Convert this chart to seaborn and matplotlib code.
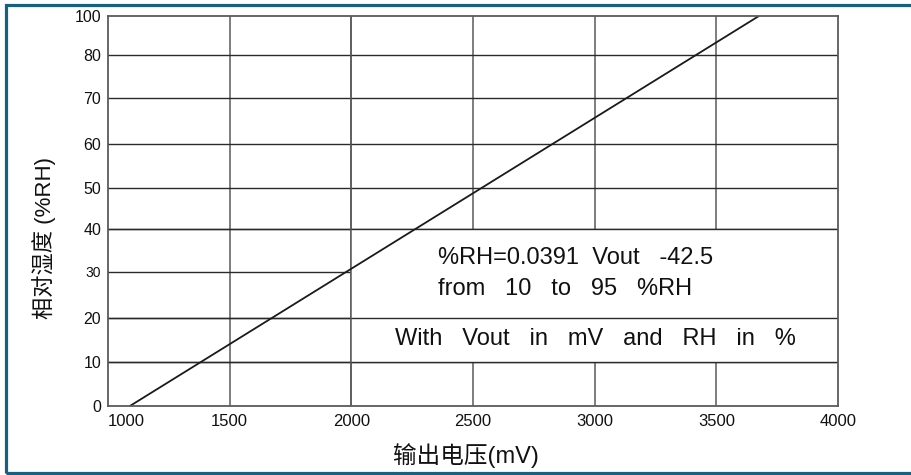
import matplotlib
matplotlib.use("Agg")
import matplotlib.pyplot as plt
import matplotlib.transforms as mtransforms
import seaborn as sns
import pandas as pd
from matplotlib.patches import Rectangle

# ---- data ----
vout_mv = [1090, 3675]          # output voltage (mV) at line ends
rh_pct = [0, 100]               # relative humidity (%) at line ends
x_ticks = [1000, 1500, 2000, 2500, 3000, 3500, 4000]
y_tick_labels = ["0", "10", "20", "30", "40", "50", "60", "70", "80", "100"]
y_tick_pos = [0, 11.3, 22.6, 34.4, 45.4, 55.9, 67.2, 79.0, 90.0, 100]
eq_lines = ["%RH=0.0391  Vout   -42.5", "from   10   to   95   %RH"]
note_text = "With   Vout   in   mV   and   RH   in   %"
x_label = "输出电压(mV)"
y_label = "相对湿度 (%RH)"

sns.set_theme(style="white")
plt.rcParams['font.family'] = ['Liberation Sans', 'Noto Sans CJK SC']

W, H = 911, 475
fig = plt.figure(figsize=(W / 100, H / 100), dpi=100)
fig.patch.set_facecolor("white")
ax = fig.add_axes([108 / W, 1 - 406 / H, 730 / W, 390 / H])
ax.set_facecolor("white")

df = pd.DataFrame({"Vout": vout_mv, "RH": rh_pct})
sns.lineplot(data=df, x="Vout", y="RH", ax=ax, color="#1a1a1a", lw=1.3, zorder=5)

ax.set_xlim(x_ticks[0], x_ticks[-1])
ax.set_ylim(0, 100)
ax.set_xticks(x_ticks)
ax.set_xticklabels([str(v) for v in x_ticks])
ax.set_yticks(y_tick_pos)
ax.set_yticklabels(y_tick_labels)
ax.tick_params(length=0, colors="#111111")
ax.tick_params(axis="x", pad=6, labelsize=12)
ax.tick_params(axis="y", pad=5, labelsize=11.5)
ax.get_yticklabels()[3].set_fontsize(10)
# first x label sits to the right of its tick (avoids the "0" label)
ax.get_xticklabels()[0].set_horizontalalignment("left")

# grid
hcol, vcol = "#2a2a2a", "#5a5a5a"
for v in x_ticks[1:-1]:
    ax.axvline(v, color=vcol, lw=1.1, zorder=1)
for v in y_tick_pos[1:-1]:
    ax.axhline(v, color=hcol, lw=1.0, zorder=1)

# white text panel covering part of the grid
x0 = x_ticks[2]
ax.add_patch(Rectangle((x0, y_tick_pos[1]), x_ticks[-1] - x0,
                       y_tick_pos[4] - y_tick_pos[1],
                       facecolor="white", edgecolor="none", zorder=2))
for v in (y_tick_pos[1], y_tick_pos[2], y_tick_pos[4]):
    ax.axhline(v, color=hcol, lw=1.0, zorder=3)
ax.axvline(x0, color=vcol, lw=1.1, zorder=3)

for s in ax.spines.values():
    s.set_color("#5a5a5a")
    s.set_linewidth(1.3)
    s.set_zorder(6)

# annotations
ax.text(0.452, 0.3795, eq_lines[0], transform=ax.transAxes, fontsize=17,
        ha="left", va="center", color="#111111", zorder=6)
ax.text(0.452, 0.300, eq_lines[1], transform=ax.transAxes, fontsize=17,
        ha="left", va="center", color="#111111", zorder=6)
ax.text(0.393, 0.1718, note_text, transform=ax.transAxes, fontsize=17,
        ha="left", va="center", color="#111111", zorder=6)

ax.set_xlabel(x_label, fontsize=17, color="#111111", va="center", ha="center")
ax.xaxis.set_label_coords(0.491, -0.128)
ax.set_ylabel(y_label, fontsize=16, color="#111111", va="center", ha="center")
ax.yaxis.set_label_coords(-0.0877, 0.431)

# outer frame
fig.add_artist(Rectangle((5.5 / W, 1 - 472.5 / H), 2.0, (472.5 - 4.7) / H,
                         transform=fig.transFigure, fill=False,
                         edgecolor="#17607f", lw=2.3, clip_on=False))

fig.savefig("out.png", dpi=100)
